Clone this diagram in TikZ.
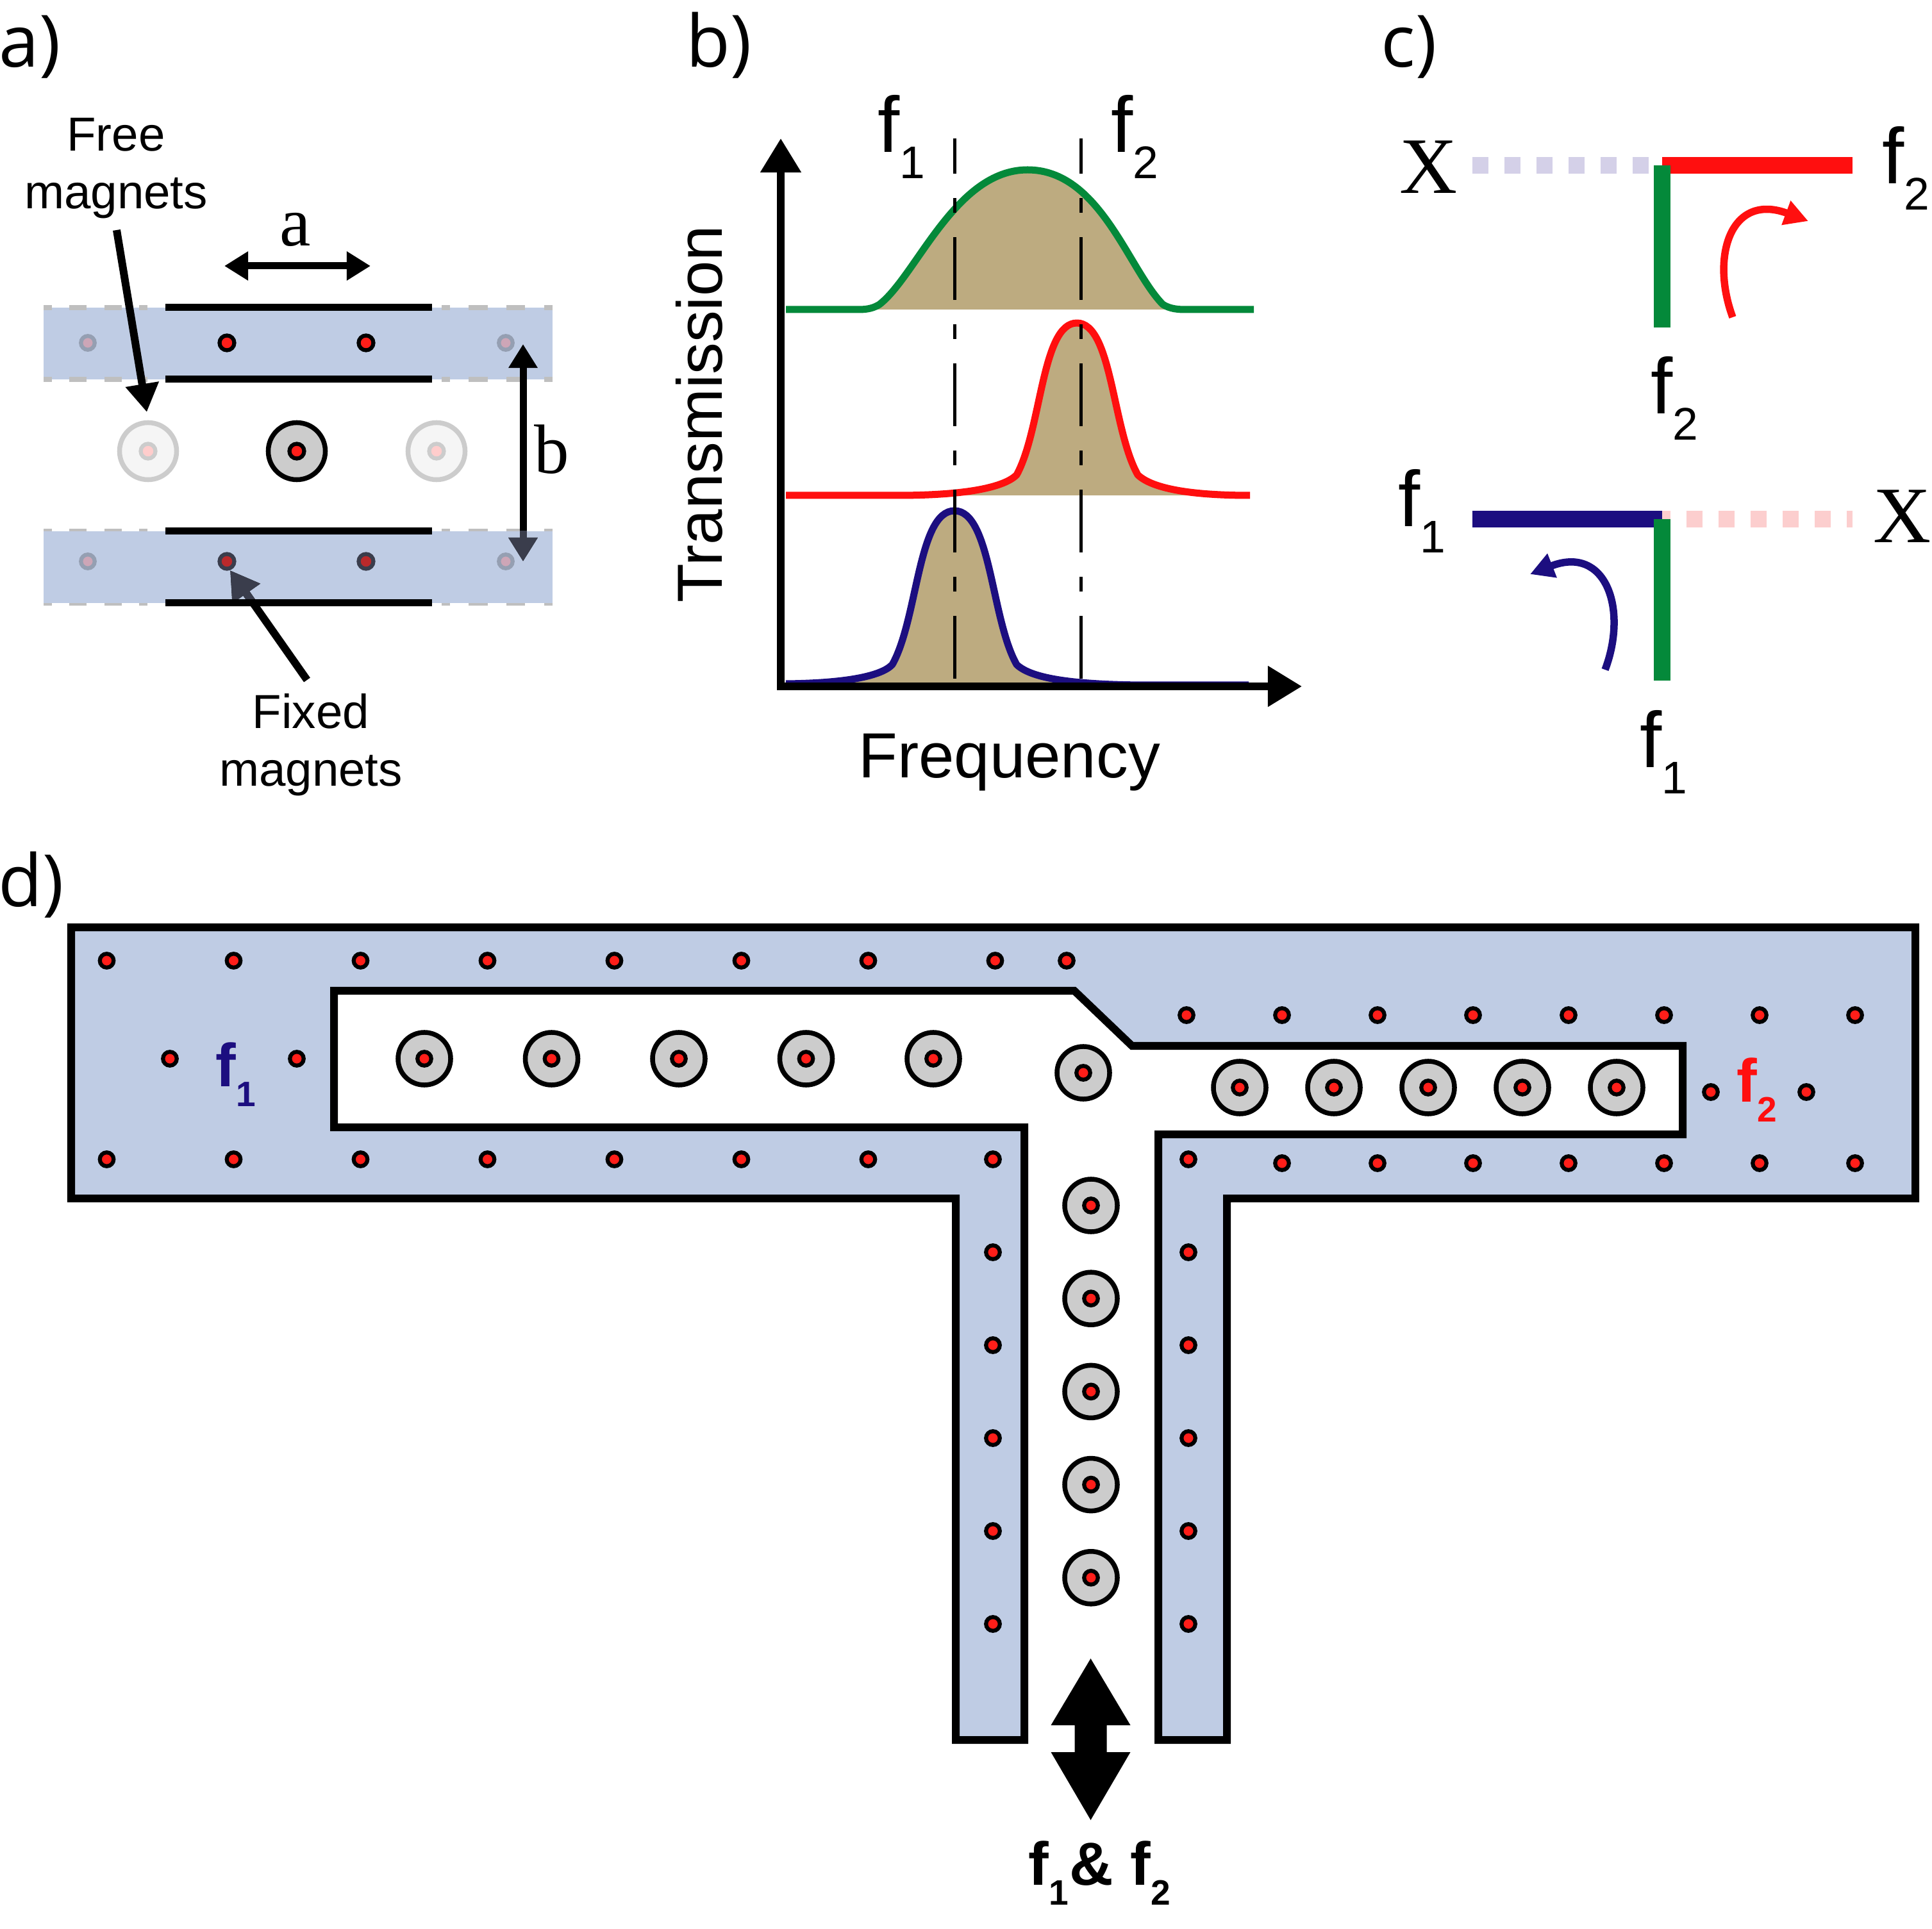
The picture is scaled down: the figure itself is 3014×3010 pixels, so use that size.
\documentclass[tikz,border=0pt]{standalone}
\usepackage{fontspec}
\setmainfont{Liberation Sans}
\newfontfamily\timesf{Liberation Serif}
\newfontfamily\panelf{Open Sans}
\usetikzlibrary{arrows.meta,positioning}
\definecolor{chanblue}{RGB}{191,204,228}
\definecolor{magred}{RGB}{255,30,25}
\definecolor{maggray}{RGB}{204,204,204}
\definecolor{bandbrown}{RGB}{189,171,128}
\definecolor{linegreen}{RGB}{4,137,58}
\definecolor{linered}{RGB}{255,15,15}
\definecolor{linenavy}{RGB}{28,14,128}
\definecolor{underbar}{RGB}{58,61,76}
\newcommand{\fsub}[1]{f\raisebox{-.33em}{\scalebox{.58}{#1}}}
\tikzset{
 magdot/.style={circle,draw=black,fill=magred,line width=.062cm,minimum size=.215cm,inner sep=0},
 magbig/.style={circle,draw=black,fill=maggray,line width=.075cm,minimum size=.82cm,inner sep=0},
 txt/.style={anchor=base west,inner sep=0},
 paneltxt/.style={txt,font=\panelf\fontsize{32}{33}\selectfont},
 magtxt/.style={inner sep=0,align=center,font=\fontsize{21.2}{25.6}\selectfont},
 ftxt/.style={txt,font=\fontsize{35}{36}\selectfont},
 xtxt/.style={txt,font=\timesf\fontsize{35.5}{36}\selectfont},
 axtxt/.style={txt,font=\fontsize{28.3}{29}\selectfont},
 dtxt/.style={txt,font=\bfseries\fontsize{27}{28}\selectfont},
 thinarrow/.style={line width=.11cm,>={Triangle[length=.37cm,width=.43cm]}},
 longarrow/.style={line width=.12cm,>={Triangle[length=.44cm,width=.5cm]}},
 axisarrow/.style={line width=.115cm,>={Triangle[length=.53cm,width=.61cm]}},
 curve/.style={line width=.11cm,line join=round},
 marker/.style={line width=.05cm,dash pattern=on .98cm off .38cm on .23cm off .38cm,dash phase=.43cm},
 wave/.style={line width=.26cm},
 turn/.style={line width=.115cm,>={Triangle[length=.37cm,width=.38cm]}}
}
\begin{document}
\begin{tikzpicture}[x=0.01cm,y=-0.01cm]
\useasboundingbox (0,0) rectangle (3014,3010);
\node[paneltxt] (la) at (-2,105) {a)};
\node[paneltxt] (lb) at (1070,105) {b)};
\node[paneltxt] (lc) at (2154,105) {c)};
\node[paneltxt] (ld) at (-3,1414) {d)};

\fill[chanblue] (68,480) rectangle (862,592);
\foreach \y in {480,592,829,941}{
 \draw[gray!50,line width=.08cm,dash pattern=on .13cm off .27cm on .27cm off .28cm on .27cm off .27cm on .13cm] (68,\y)--(230,\y);
 \draw[gray!50,line width=.08cm,dash pattern=on .13cm off .29cm on .30cm off .29cm on .29cm off .30cm on .13cm] (689,\y)--(862,\y);
}
\fill[chanblue] (68,829) rectangle (862,941);
\foreach \x in {137,789}{\foreach \y in {535,876}{
 \node[magdot,draw=black!22!chanblue,fill=magred!22!chanblue] (s\x\y) at (\x,\y) {};}}
\foreach \x in {354,571}{
 \node[magdot,minimum size=.23cm] (t\x) at (\x,535) {};
 \node[magdot,minimum size=.23cm,draw=underbar,fill=magred!65!underbar] (u\x) at (\x,876) {};}
\foreach \x in {231,681}{
 \node[magbig,minimum size=.89cm,draw=gray!40,fill=gray!8] (m\x) at (\x,704) {};
 \node[magdot,minimum size=.23cm,draw=gray!40,fill=magred!22] at (\x,704) {};}
\node[magbig,minimum size=.89cm] (m463) at (463,704) {};
\node[magdot,minimum size=.23cm] at (463,704) {};
\coordinate (fa) at (182,359);
\coordinate (fb) at (229,643);
\coordinate (xa) at (479,1061);
\coordinate (xb) at (359,890);
\coordinate (ba) at (816,537);
\coordinate (bb) at (816,876);
\draw[thinarrow,<->] (350,415)--(578,415);
\draw[thinarrow,<->] (ba)--(bb);
\draw[longarrow,->] (fa)--(fb);
\draw[longarrow,->] (xa)--(xb);
\begin{scope}
\clip (68,829) rectangle (862,941);
\draw[thinarrow,<->,underbar] (ba)--(bb);
\draw[longarrow,->,underbar] (xa)--(xb);
\end{scope}
\foreach \y in {480,592,829,941}{\draw[line width=.11cm] (258,\y)--(674,\y);}
\node[txt,font=\timesf\fontsize{31}{32}\selectfont] (la2) at (436,384) {a};
\node[txt,font=\timesf\fontsize{31}{32}\selectfont] (lb2) at (833,739) {b};
\node[magtxt] (free) at (181,263) {Free\\magnets};
\node[magtxt] (fixed) at (485,1162) {Fixed\\magnets};

\fill[bandbrown] (1355,483) .. controls (1362,482) and (1366,479) .. (1372,475) .. controls (1430,430) and (1490,265) .. (1603,265) .. controls (1716,265) and (1760,420) .. (1814,475) .. controls (1820,479) and (1826,482) .. (1834,483)--cycle;
\fill[bandbrown] (1480,773) .. controls (1530,770) and (1570,757) .. (1586,741) .. controls (1625,670) and (1625,504) .. (1680,504) .. controls (1735,504) and (1735,670) .. (1775,741) .. controls (1795,760) and (1830,770) .. (1880,773)--cycle;
\fill[bandbrown] (1310,1067) .. controls (1350,1064) and (1380,1050) .. (1392,1037) .. controls (1432,966) and (1432,797) .. (1489,797) .. controls (1546,797) and (1546,966) .. (1586,1037) .. controls (1600,1050) and (1625,1062) .. (1670,1067)--cycle;
\draw[curve,linegreen] (1226,483)--(1340,483) .. controls (1355,483) and (1364,480) .. (1372,475) .. controls (1430,430) and (1490,265) .. (1603,265) .. controls (1716,265) and (1760,420) .. (1814,475) .. controls (1822,480) and (1832,483) .. (1848,483)--(1956,483);
\draw[curve,linered] (1226,773)--(1400,773) .. controls (1500,773) and (1565,762) .. (1586,741) .. controls (1625,670) and (1625,504) .. (1680,504) .. controls (1735,504) and (1735,670) .. (1775,741) .. controls (1800,765) and (1870,773) .. (1950,773);
\draw[curve,linenavy] (1226,1067) .. controls (1320,1066) and (1375,1055) .. (1392,1037) .. controls (1432,966) and (1432,797) .. (1489,797) .. controls (1546,797) and (1546,966) .. (1586,1037) .. controls (1610,1060) and (1680,1068) .. (1780,1069)--(1948,1069);
\draw[marker] (1489,216)--(1489,1068);
\draw[marker] (1686,216)--(1686,1068);
\coordinate (orig) at (1218,1071);
\draw[axisarrow,->] (orig)--(1218,216);
\draw[axisarrow,->] (1212,1071)--(2031,1071);
\node[ftxt] (bf1) at (1369,238) {\fsub{1}};
\node[ftxt] (bf2) at (1733,238) {\fsub{2}};
\node[axtxt,rotate=90] (ty) at (1126,941) {Transmission};
\node[axtxt] (tx) at (1339,1214) {Frequency};

\draw[wave,color={rgb,255:red,212;green,208;blue,232},dash pattern=on .25cm off .25cm] (2297,258)--(2572,258);
\draw[wave,linered] (2593,258)--(2890,258);
\draw[wave,linegreen] (2593,258)--(2593,511);
\draw[wave,color={rgb,255:red,252;green,206;blue,206},dash pattern=on .25cm off .25cm] (2581,810)--(2890,810);
\draw[wave,linenavy] (2297,810)--(2593,810);
\draw[wave,linegreen] (2593,810)--(2593,1062);
\draw[turn,->,linered] (2703,495) .. controls (2668,400) and (2700,300) .. (2821,345);
\draw[turn,->,linenavy] (2504,1045) .. controls (2540,950) and (2505,850) .. (2387,896);
\node[xtxt] (x1) at (2183,302) {X};
\node[xtxt] (x2) at (2922,847) {X};
\node[ftxt] (cf2) at (2936,287) {\fsub{2}};
\node[ftxt] (cf2b) at (2575,646) {\fsub{2}};
\node[ftxt] (cf1) at (2181,822) {\fsub{1}};
\node[ftxt] (cf1b) at (2558,1198) {\fsub{1}};

\filldraw[fill=chanblue,line width=.12cm,miter limit=10] (111,1447)--(2988,1447)--(2988,1870)--(1914,1870)--(1914,2715)--(1807,2715)--(1807,1770)--(2625,1770)--(2625,1632)--(1766,1632)--(1676,1546)--(521,1546)--(521,1759)--(1598,1759)--(1598,2715)--(1491,2715)--(1491,1870)--(111,1870)--cycle;
\foreach \k in {0,...,7}{\node[magdot] (p\k) at ({166.5+198*\k},1499) {};}
\node[magdot] (p8) at (1664,1499) {};
\foreach \k in {0,...,6}{\node[magdot] (q\k) at ({166.5+198*\k},1809) {};}
\foreach \k in {0,...,5}{
 \node[magdot] (v\k) at (1549,{1809+145*\k}) {};
 \node[magdot] (w\k) at (1854,{1809+145*\k}) {};}
\foreach \k in {0,...,7}{\node[magdot] (r\k) at ({1851+149*\k},1584) {};}
\foreach \k in {1,...,7}{\node[magdot] (o\k) at ({1851+149*\k},1815) {};}
\foreach \x in {265,463}{\node[magdot] at (\x,1652) {};}
\foreach \x in {2669,2818}{\node[magdot] at (\x,1704) {};}
\foreach \k in {0,...,4}{
 \node[magbig] (g\k) at ({662+198.5*\k},1652) {};
 \node[magdot] at (g\k) {};
 \node[magbig] (h\k) at ({1934+147*\k},1697) {};
 \node[magdot] at (h\k) {};
 \node[magbig] (e\k) at (1702,{1881+145.2*\k}) {};
 \node[magdot] at (e\k) {};}
\node[magbig] (g5) at (1690,1674) {};
\node[magdot] at (g5) {};
\fill (1701.5,2588)--(1763.5,2692)--(1726.5,2692)--(1726.5,2734)--(1763.5,2734)--(1701.5,2840)--(1639.5,2734)--(1676.5,2734)--(1676.5,2692)--(1639.5,2692)--cycle;
\node[dtxt,text=linenavy] (df1) at (336,1695) {\fsub{1}};
\node[dtxt,text=linered] (df2) at (2709,1719) {\fsub{2}};
\node[dtxt] (dall) at (1604,2941) {\fsub{1}};
\node[dtxt] (damp) at (1668,2941) {\&};
\node[dtxt] (dall2) at (1763,2941) {\fsub{2}};
\end{tikzpicture}
\end{document}
